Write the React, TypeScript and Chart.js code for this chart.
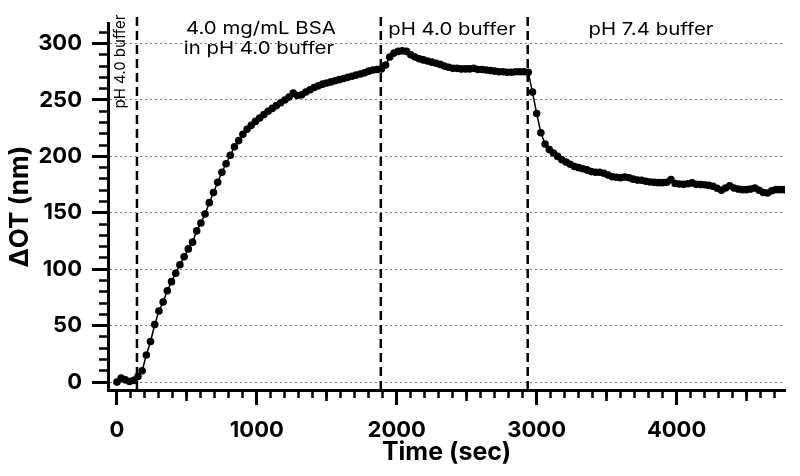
import React, { useEffect, useRef } from "react";
import { Chart, registerables } from "chart.js";

Chart.register(...registerables);

// Time (sec) of each measurement
const timeSec = [
  0, 30, 60, 90, 120, 150, 180, 210, 240, 270, 300, 330, 360, 390, 420, 450, 480, 510, 540, 570,
  600, 630, 660, 690, 720, 750, 780, 810, 840, 870, 900, 930, 960, 990, 1020, 1050, 1080, 1110, 1140, 1170,
  1200, 1230, 1260, 1290, 1320, 1350, 1380, 1410, 1440, 1470, 1500, 1530, 1560, 1590, 1620, 1650, 1680, 1710, 1740, 1770,
  1800, 1830, 1860, 1890, 1920, 1950, 1980, 2010, 2040, 2070, 2100, 2130, 2160, 2190, 2220, 2250, 2280, 2310, 2340, 2370,
  2400, 2430, 2460, 2490, 2520, 2550, 2580, 2610, 2640, 2670, 2700, 2730, 2760, 2790, 2820, 2850, 2880, 2910, 2940, 2970,
  3000, 3030, 3060, 3090, 3120, 3150, 3180, 3210, 3240, 3270, 3300, 3330, 3360, 3390, 3420, 3450, 3480, 3510, 3540, 3570,
  3600, 3630, 3660, 3690, 3720, 3750, 3780, 3810, 3840, 3870, 3900, 3930, 3960, 3990, 4020, 4050, 4080, 4110, 4140, 4170,
  4200, 4230, 4260, 4290, 4320, 4350, 4380, 4410, 4440, 4470, 4500, 4530, 4560, 4590, 4620, 4650, 4680, 4710, 4740, 4770,
];

// ΔOT (nm) at each time
const deltaOT = [
  0, 3.5, 2, 0.5, 1.5, 5, 10, 24, 36, 51, 63, 71, 81, 89, 96.5, 104, 111, 118, 124, 134,
  141, 149, 159, 168, 177, 186, 193.5, 201, 208.5, 214, 219.5, 224, 227.5, 231, 234, 237, 240, 242.5, 245, 247.5,
  250, 252.5, 256, 254, 254.5, 257, 259, 261, 262.5, 264, 265, 266, 267, 268, 269, 270, 271, 272, 273, 274,
  275.5, 276.5, 277, 277.5, 281, 288, 291.5, 293, 293.5, 293, 290, 288, 286.5, 285.5, 284.5, 283.5, 282.5, 281.5, 280, 279,
  278, 278, 277.5, 277.5, 277.5, 278, 277, 277, 276.5, 276, 275.5, 275, 275, 274.5, 274.5, 275, 275, 275, 274.5, 257,
  238, 221, 211, 206, 203, 200, 197, 195, 193, 191, 190, 189, 188, 186.5, 186, 186, 185, 183.5, 182, 181.5,
  181, 181.7, 181, 179.8, 179, 178.8, 178, 177.3, 177, 176.7, 176.7, 177, 179.4, 176, 175.5, 175.2, 175.8, 176.5, 175.2, 175,
  174.8, 174.3, 173.5, 171.8, 170, 172, 174, 172, 171, 170.5, 170.5, 171, 172, 170, 168, 167.5, 169.5, 170.5, 170.5, 170.5,
];

// Times (sec) at which the solution was switched
const bufferSwitchTimes = [143, 1886, 2936];

// Axis tick values
const xMajorTicks = [0, 1000, 2000, 3000, 4000];
const xMidTicks = [500, 1500, 2500, 3500, 4500];
const yMajorTicks = [0, 50, 100, 150, 200, 250, 300];

// Phase labels
const rotatedPhaseLabel = "pH 4.0 buffer";
const bsaPhaseLabels = ["4.0 mg/mL BSA", "in pH 4.0 buffer"];
const secondPhaseLabel = "pH 4.0 buffer";
const thirdPhaseLabel = "pH 7.4 buffer";

const xTitle = "Time (sec)";
const yTitle = "ΔOT (nm)";

const X_MIN = -64;
const X_MAX = 4775;
const Y_MIN = -7;
const Y_MAX = 318;
const DASH_TOP = 326;

const phaseLabelPlugin = {
  id: "phaseLabels",
  afterDatasetsDraw(chart: any) {
    const { ctx } = chart;
    const xs = chart.scales.x;
    const ys = chart.scales.y;
    const drawStretched = (text: string, t: number, v: number) => {
      ctx.save();
      ctx.translate(xs.getPixelForValue(t), ys.getPixelForValue(v));
      ctx.scale(1.2, 1);
      ctx.font = "17px Inter";
      ctx.fillStyle = "#000";
      ctx.textAlign = "center";
      ctx.textBaseline = "alphabetic";
      ctx.fillText(text, 0, 0);
      ctx.restore();
    };
    drawStretched(bsaPhaseLabels[0], 1029, 308.3);
    drawStretched(bsaPhaseLabels[1], 1015, 290.6);
    drawStretched(secondPhaseLabel, 2395, 307.4);
    drawStretched(thirdPhaseLabel, 3817, 307.4);

    ctx.save();
    ctx.translate(xs.getPixelForValue(25), ys.getPixelForValue(284));
    ctx.rotate(-Math.PI / 2);
    ctx.font = "15px Inter";
    ctx.fillStyle = "#000";
    ctx.textAlign = "center";
    ctx.textBaseline = "middle";
    ctx.fillText(rotatedPhaseLabel, 0, 0);
    ctx.restore();
  },
};

const setTicks = (values: number[]) => (scale: any) => {
  scale.ticks = values.map((v) => ({ value: v }));
};

export default function App() {
  const canvasRef = useRef<HTMLCanvasElement | null>(null);

  useEffect(() => {
    if (!canvasRef.current) return;
    const points = timeSec.map((t, i) => ({ x: t, y: deltaOT[i] }));
    const dashSets = bufferSwitchTimes.map((t) => ({
      data: [
        { x: t, y: Y_MIN },
        { x: t, y: DASH_TOP },
      ],
      borderColor: "#000",
      borderWidth: 2.5,
      borderDash: [9, 5],
      pointRadius: 0,
      clip: false,
      xAxisID: "x",
      yAxisID: "y",
    }));

    const tickFont = { family: "Inter", size: 22, weight: "bold" as const };
    const plainLabel = (v: any) => String(v);

    const chart = new Chart(canvasRef.current, {
      type: "line",
      data: {
        datasets: [
          {
            data: points,
            borderColor: "#000",
            borderWidth: 1.5,
            backgroundColor: "#000",
            pointBackgroundColor: "#000",
            pointBorderColor: "#000",
            pointBorderWidth: 0,
            pointRadius: 3.8,
            tension: 0,
            xAxisID: "x",
            yAxisID: "y",
          },
          ...dashSets,
        ],
      },
      options: {
        animation: false,
        responsive: false,
        events: [],
        layout: { padding: { top: 22, right: 15, left: 0, bottom: 0 } },
        plugins: {
          legend: { display: false },
          tooltip: { enabled: false },
        },
        scales: {
          x: {
            type: "linear",
            position: "bottom",
            min: X_MIN,
            max: X_MAX,
            afterBuildTicks: setTicks(xMajorTicks),
            ticks: {
              color: "#000",
              font: tickFont,
              padding: 12,
              maxRotation: 0,
              autoSkip: false,
              callback: plainLabel,
            },
            grid: {
              drawOnChartArea: false,
              tickLength: 15,
              tickWidth: 3,
              tickColor: "#000",
            },
            border: { display: true, color: "#000", width: 3 },
            title: {
              display: true,
              text: xTitle,
              color: "#000",
              font: { family: "Inter", size: 25, weight: "bold" as const },
              padding: { top: 0, bottom: 9 },
            },
            afterFit: (s: any) => {
              s.height = 86;
            },
          },
          y: {
            type: "linear",
            position: "left",
            min: Y_MIN,
            max: Y_MAX,
            afterBuildTicks: setTicks(yMajorTicks),
            ticks: {
              color: "#000",
              font: tickFont,
              padding: 10,
              callback: plainLabel,
            },
            grid: {
              color: "#777",
              lineWidth: 1,
              tickLength: 16,
              tickWidth: 3,
              tickColor: "#000",
            },
            border: { display: true, color: "#000", width: 3, dash: [2, 3] },
            title: {
              display: true,
              text: yTitle,
              color: "#000",
              font: { family: "Inter", size: 26, weight: "bold" as const },
              padding: { top: 5, bottom: 0 },
            },
            afterFit: (s: any) => {
              s.width = 108;
            },
          },
          xMid: {
            type: "linear",
            axis: "x",
            position: { y: Y_MIN },
            min: X_MIN,
            max: X_MAX,
            afterBuildTicks: setTicks(xMidTicks),
            ticks: { display: false },
            grid: { drawOnChartArea: false, tickLength: 11, tickWidth: 2.5, tickColor: "#000" },
            border: { display: false },
          },
          xMinor: {
            type: "linear",
            axis: "x",
            position: { y: Y_MIN },
            min: X_MIN,
            max: X_MAX,
            ticks: { stepSize: 100, includeBounds: false, display: false },
            grid: { drawOnChartArea: false, tickLength: 8, tickWidth: 2.5, tickColor: "#000" },
            border: { display: false },
          },
          yMinor: {
            type: "linear",
            axis: "y",
            position: { x: X_MIN },
            min: Y_MIN,
            max: Y_MAX,
            ticks: { stepSize: 10, includeBounds: false, display: false },
            grid: { drawOnChartArea: false, tickLength: 9, tickWidth: 2.5, tickColor: "#000" },
            border: { display: false },
          },
        },
      } as any,
      plugins: [phaseLabelPlugin],
    });

    return () => chart.destroy();
  }, []);

  return (
    <div style={{ position: "absolute", left: 0, top: 0, width: 800, height: 476, background: "#fff" }}>
      <canvas ref={canvasRef} width={800} height={476} style={{ width: 800, height: 476, display: "block" }} />
    </div>
  );
}
